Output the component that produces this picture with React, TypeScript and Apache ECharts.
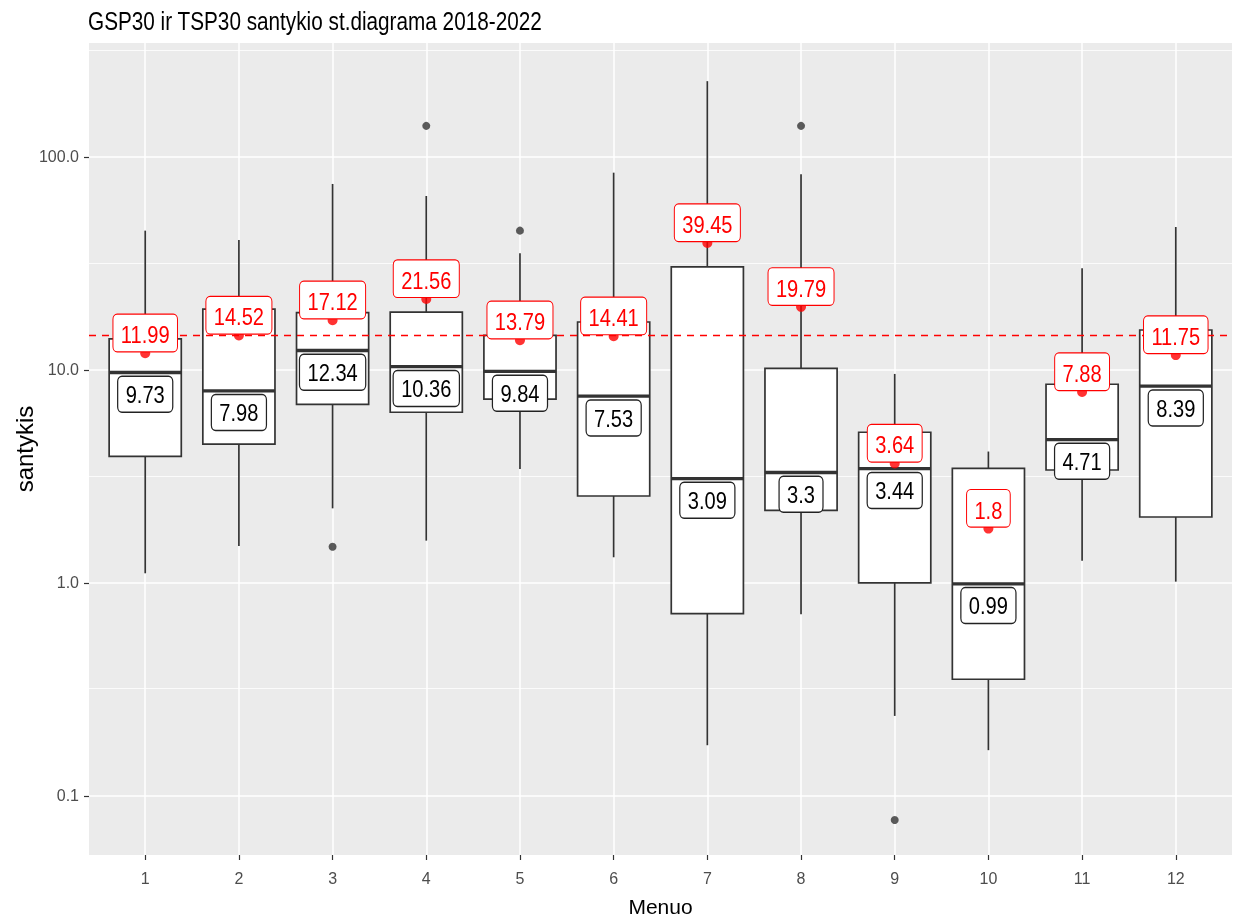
import React, { useEffect, useRef } from 'react';
import * as echarts from 'echarts';

const titleText = 'GSP30 ir TSP30 santykio st.diagrama 2018-2022';
const xName = 'Menuo';
const yName = 'santykis';

const categories = [1, 2, 3, 4, 5, 6, 7, 8, 9, 10, 11, 12];
const lowerWhisker = [1.11, 1.49, 2.24, 1.58, 3.43, 1.32, 0.173, 0.713, 0.2375, 0.164, 1.27, 1.014];
const q1 = [3.93, 4.49, 6.9, 6.33, 7.29, 2.56, 0.718, 2.19, 1.0, 0.353, 3.39, 2.04];
const medians = [9.73, 7.98, 12.34, 10.36, 9.84, 7.53, 3.09, 3.3, 3.44, 0.99, 4.71, 8.39];
const q3 = [13.98, 19.3, 18.6, 18.7, 14.55, 16.8, 30.5, 10.18, 5.1, 3.45, 8.57, 15.4];
const upperWhisker = [45.1, 40.8, 74.7, 65.6, 35.3, 84.4, 227, 82.9, 9.58, 4.14, 30.0, 46.9];
const means = [11.99, 14.52, 17.12, 21.56, 13.79, 14.41, 39.45, 19.79, 3.64, 1.8, 7.88, 11.75];
const outlierCats = [3, 4, 5, 8, 9];
const outlierValues = [1.48, 140, 45.1, 140, 0.0771];
const overallMean = 14.5;

const xTicks = [1, 2, 3, 4, 5, 6, 7, 8, 9, 10, 11, 12];
const yTicks = [0.1, 1, 10, 100];
const yMinor = [0.3162, 3.162, 31.62, 316.2];

const FONT = "'Liberation Sans', Arial, sans-serif";
const SQUEEZE = 0.82;

export default function App() {
  const ref = useRef<HTMLDivElement>(null);
  useEffect(() => {
    const chart = echarts.init(ref.current!, null, { renderer: 'svg' });
    const HALF = 0.385;
    const boxData = categories.map((c, i) => [c, lowerWhisker[i], q1[i], medians[i], q3[i], upperWhisker[i]]);
    const stroke = '#333333';
    const option: any = {
      animation: false,
      graphic: [
        {
          type: 'text',
          x: 88,
          y: 9,
          scaleX: SQUEEZE,
          silent: true,
          style: { text: titleText, fill: '#000', fontSize: 25.3, fontFamily: FONT, align: 'left', verticalAlign: 'top' },
        },
      ],
      grid: {
        left: 89,
        top: 43,
        width: 1143,
        height: 812,
        show: true,
        backgroundColor: '#EBEBEB',
        borderWidth: 0,
        containLabel: false,
        outerBoundsMode: 'none',
      },
      xAxis: {
        type: 'value',
        min: 0.4,
        max: 12.6,
        name: xName,
        nameLocation: 'middle',
        nameGap: 41,
        nameMoveOverlap: false,
        nameTextStyle: { fontFamily: FONT, fontSize: 21, color: '#000' },
        axisLine: { show: false },
        axisTick: { show: true, length: 5, lineStyle: { color: '#333', width: 1.2 }, customValues: xTicks },
        axisLabel: { customValues: xTicks, margin: 15, color: '#4D4D4D', fontSize: 16, fontFamily: FONT, formatter: (v: number) => String(v) },
        splitLine: { show: true, lineStyle: { color: '#fff', width: 1.5 } },
      },
      yAxis: {
        type: 'log',
        logBase: 10,
        min: 0.0528,
        max: 342.9,
        name: yName,
        nameLocation: 'middle',
        nameGap: 53,
        nameMoveOverlap: false,
        nameTextStyle: { fontFamily: FONT, fontSize: 24, color: '#000' },
        axisLine: { show: false },
        axisTick: { show: true, length: 5, lineStyle: { color: '#333', width: 1.2 }, customValues: yTicks },
        axisLabel: { customValues: yTicks, margin: 10, color: '#4D4D4D', fontSize: 16, fontFamily: FONT, formatter: (v: number) => v.toFixed(1) },
        splitLine: { show: true, lineStyle: { color: '#fff', width: 1.5 } },
      },
      series: [
        {
          type: 'custom',
          z: 2,
          silent: true,
          data: boxData,
          renderItem: (params: any, api: any) => {
            const x = api.value(0);
            const lo = api.coord([x, api.value(1)]);
            const b1 = api.coord([x - HALF, api.value(2)]);
            const md = api.coord([x, api.value(3)]);
            const b3 = api.coord([x + HALF, api.value(4)]);
            const hi = api.coord([x, api.value(5)]);
            return {
              type: 'group',
              children: [
                { type: 'line', shape: { x1: lo[0], y1: lo[1], x2: lo[0], y2: b1[1] }, style: { stroke, lineWidth: 1.7 } },
                { type: 'line', shape: { x1: hi[0], y1: hi[1], x2: hi[0], y2: b3[1] }, style: { stroke, lineWidth: 1.7 } },
                { type: 'rect', shape: { x: b1[0], y: b3[1], width: b3[0] - b1[0], height: b1[1] - b3[1] }, style: { fill: '#fff', stroke, lineWidth: 1.7 } },
                { type: 'line', shape: { x1: b1[0], y1: md[1], x2: b3[0], y2: md[1] }, style: { stroke, lineWidth: 3.3 } },
              ],
            };
          },
          markLine: {
            silent: true,
            z: 1,
            symbol: 'none',
            label: { show: false },
            lineStyle: { color: '#fff', width: 0.8, type: 'solid' },
            data: yMinor.map((v) => ({ yAxis: v })),
          },
        },
        {
          type: 'scatter',
          z: 3,
          silent: true,
          symbolSize: 8,
          itemStyle: { color: '#333333' },
          data: outlierCats.map((c, i) => [c, outlierValues[i]]),
          markLine: {
            silent: true,
            z: 3,
            symbol: 'none',
            label: { show: false },
            lineStyle: { color: '#FF0000', width: 1.4, type: [7, 6] },
            data: [{ yAxis: overallMean }],
          },
        },
        {
          type: 'scatter',
          z: 4,
          silent: true,
          symbolSize: 10,
          itemStyle: { color: '#FF0000' },
          data: categories.map((c, i) => [c, means[i]]),
        },
        {
          type: 'custom',
          z: 5,
          silent: true,
          data: categories.map((c, i) => [c, medians[i]]),
          renderItem: (params: any, api: any) => {
            const p = api.coord([api.value(0), api.value(1)]);
            return {
              type: 'text',
              x: p[0],
              y: p[1] + 4.5,
              scaleX: SQUEEZE,
              style: {
                text: String(medians[params.dataIndex]),
                fill: '#000',
                fontSize: 24.5,
                fontFamily: FONT,
                align: 'center',
                verticalAlign: 'top',
                lineHeight: 24.5,
                backgroundColor: '#fff',
                borderColor: '#222',
                borderWidth: 1.5,
                borderRadius: 4.5,
                padding: [5.5, 9, 4.5, 9],
              },
            };
          },
        },
        {
          type: 'custom',
          z: 6,
          silent: true,
          data: categories.map((c, i) => [c, means[i]]),
          renderItem: (params: any, api: any) => {
            const p = api.coord([api.value(0), api.value(1)]);
            return {
              type: 'text',
              x: p[0],
              y: p[1] - 2,
              scaleX: SQUEEZE,
              style: {
                text: String(means[params.dataIndex]),
                fill: '#FF0000',
                fontSize: 24.5,
                fontFamily: FONT,
                align: 'center',
                verticalAlign: 'bottom',
                lineHeight: 24.5,
                backgroundColor: '#fff',
                borderColor: '#FF0000',
                borderWidth: 1.2,
                borderRadius: 4.5,
                padding: [8, 9, 4, 9],
              },
            };
          },
        },
      ],
    };
    chart.setOption(option);
    return () => chart.dispose();
  }, []);
  return <div ref={ref} style={{ position: 'fixed', left: 0, top: 0, width: 1233, height: 918 }} />;
}
